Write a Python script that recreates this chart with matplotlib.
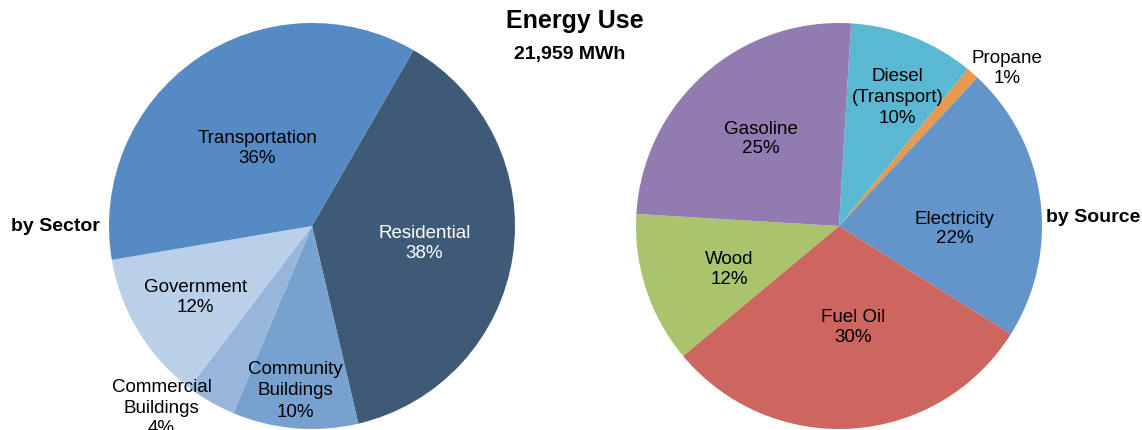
import numpy as np
import matplotlib
matplotlib.use("Agg")
import matplotlib.pyplot as plt

plt.rcParams['font.family'] = ['Liberation Sans', 'DejaVu Sans']

# Energy use by sector (percent of total)
sector_labels = ["Residential", "Community\nBuildings", "Commercial\nBuildings",
                 "Government", "Transportation"]
sector_values = [38, 10, 4, 12, 36]
sector_colors = ["#3E5A77", "#77A1CF", "#97B6DA", "#B9D0E8", "#558AC4"]

# Energy use by source (percent of total)
source_labels = ["Diesel\n(Transport)", "Propane", "Electricity", "Fuel Oil",
                 "Wood", "Gasoline"]
source_values = [10, 1, 22, 30, 12, 25]
source_colors = ["#5BB8D3", "#E79A4D", "#6395CA", "#CC665F", "#A9C46C", "#917BB0"]

total_mwh = "21,959 MWh"

W, H = 1142, 431
fig = plt.figure(figsize=(W / 100, H / 100), dpi=100)
ax = fig.add_axes([0, 0, 1, 1])

R = 203
left_center = (312, H - 227)
right_center = (839, H - 227)

# label placement: (fraction of radius, clockwise nudge in degrees, text colour, line spacing)
sector_label_layout = [(0.56, 0, "white", 1.2), (0.81, 1, "black", 1.35),
                       (1.16, 9.7, "black", 1.25), (0.67, 0, "black", 1.2),
                       (0.47, 0, "black", 1.2)]
source_label_layout = [(0.70, 3, "black", 1.3), (1.14, 5.5, "black", 1.2),
                       (0.57, 8.4, "black", 1.2), (0.50, -4, "black", 1.2),
                       (0.58, -3, "black", 1.2), (0.58, 0, "black", 1.2)]


def draw_pie(center, values, labels, colors, start, layout):
    wedges, _ = ax.pie(values, colors=colors, startangle=start, counterclock=False,
                       center=center, radius=R,
                       wedgeprops=dict(linewidth=0.6, edgecolor="none"))
    for w, lab, v, (rf, nudge, tc, ls) in zip(wedges, labels, values, layout):
        mid = np.deg2rad((w.theta1 + w.theta2) / 2 - nudge)
        x = center[0] + rf * R * np.cos(mid)
        y = center[1] + rf * R * np.sin(mid)
        ax.text(x, y, f"{lab}\n{v}%", ha="center", va="center", fontsize=13.5,
                color=tc, linespacing=ls)


draw_pie(left_center, sector_values, sector_labels, sector_colors, 60,
         sector_label_layout)
draw_pie(right_center, source_values, source_labels, source_colors, 86.6,
         source_label_layout)

ax.set_xlim(0, W)
ax.set_ylim(0, H)
ax.set_aspect("equal")
ax.axis("off")

fig.text(575 / W, 1 - 21 / H, "Energy Use", ha="center", va="center",
         fontsize=18, fontweight="bold")
fig.text(570 / W, 1 - 55 / H, total_mwh, ha="center", va="center",
         fontsize=14, fontweight="bold")
fig.text(11 / W, 1 - 227 / H, "by Sector", ha="left", va="center",
         fontsize=14, fontweight="bold")
fig.text(1046 / W, 1 - 218 / H, "by Source", ha="left", va="center",
         fontsize=14, fontweight="bold")

fig.savefig("out.png", dpi=100)
